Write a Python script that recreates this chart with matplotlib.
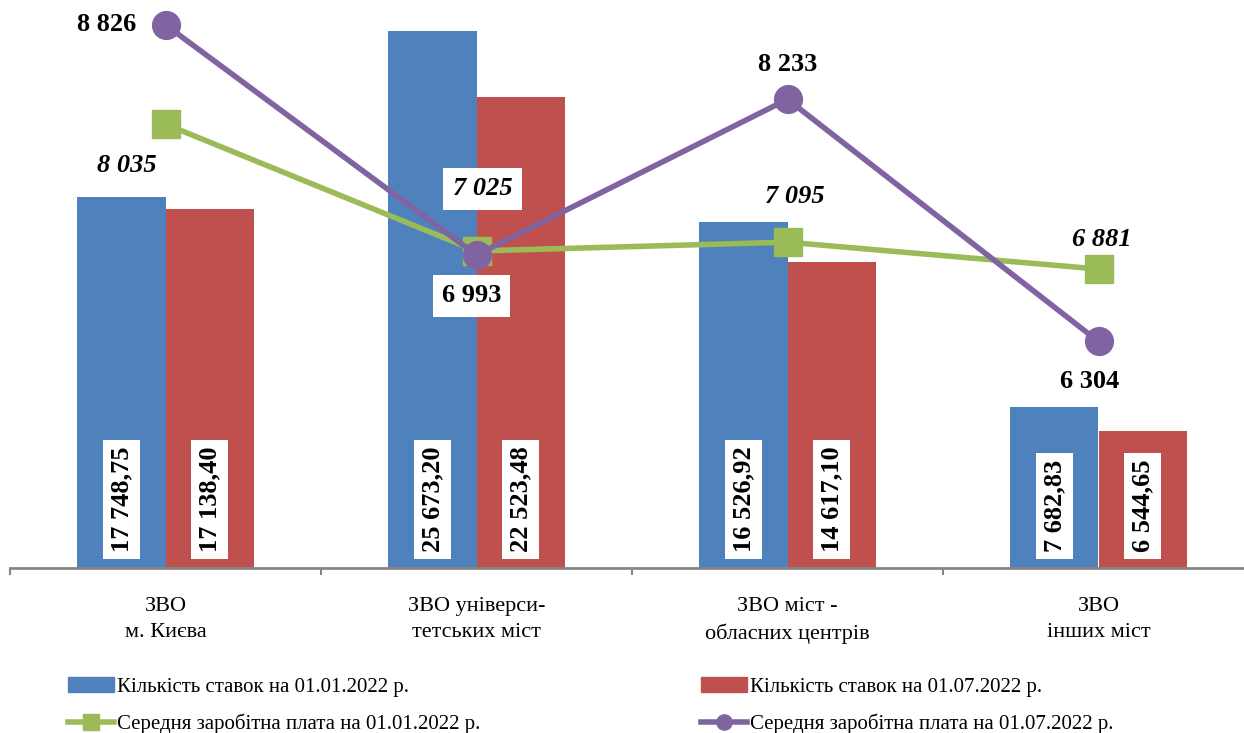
import numpy as np
import matplotlib
matplotlib.use("Agg")
import matplotlib.pyplot as plt
from matplotlib.patches import Patch
from matplotlib.lines import Line2D

plt.rcParams['font.family'] = ['Liberation Serif', 'DejaVu Serif']

# дані
categories = ["ЗВО\nм. Києва", "ЗВО універси-\nтетських міст",
              "ЗВО міст -\nобласних центрів", "ЗВО\nінших міст"]
stavky_0101 = [17748.75, 25673.20, 16526.92, 7682.83]
stavky_0107 = [17138.40, 22523.48, 14617.10, 6544.65]
zp_0101 = [8035, 7025, 7095, 6881]
zp_0107 = [8826, 6993, 8233, 6304]

legend_labels = ["Кількість ставок на 01.01.2022 р.",
                 "Кількість ставок на 01.07.2022 р.",
                 "Середня заробітна плата на 01.01.2022 р.",
                 "Середня заробітна плата на 01.07.2022 р."]

c_blue = '#4F81BD'
c_red = '#C0504D'
c_green = '#9BBB59'
c_purple = '#8064A2'
c_axis = '#868686'

W, H = 1244, 733
fig = plt.figure(figsize=(W / 100, H / 100), dpi=100)
ax = fig.add_axes([10 / W, (H - 568) / H, 1234 / W, 565 / H])

x = np.arange(len(categories))
bw = 0.283
ax.bar(x - bw / 2, stavky_0101, bw, color=c_blue, zorder=2)
ax.bar(x + bw / 2, stavky_0107, bw, color=c_red, zorder=2)

def fmt_dec(v):
    return f"{v:,.2f}".replace(',', ' ').replace('.', ',')

def fmt_int(v):
    return f"{v:,}".replace(',', ' ')

box = dict(boxstyle='square,pad=0.25', fc='white', ec='none')
for xs, vals in ((x - bw / 2, stavky_0101), (x + bw / 2, stavky_0107)):
    for xi, v in zip(xs, vals):
        ax.annotate(fmt_dec(v), (xi, 0), xytext=(0, 16), textcoords='offset pixels',
                    rotation=90, ha='center', va='bottom', fontsize=19,
                    fontweight='bold', bbox=box, zorder=5)

# вісь категорій
for s in ('top', 'left', 'right'):
    ax.spines[s].set_visible(False)
ax.spines['bottom'].set_color(c_axis)
ax.spines['bottom'].set_linewidth(2)
ax.set_yticks([])
ax.set_xticks(np.arange(-0.5, 4, 1.0))
ax.set_xticklabels([])
ax.tick_params(axis='x', which='major', length=5, width=1.5, color=c_axis)
ax.set_xticks(x, minor=True)
ax.set_xticklabels(categories, minor=True, fontsize=16, linespacing=1.5)
ax.tick_params(axis='x', which='minor', length=0, pad=21)
ax.set_xlim(-0.5, 3.5 - 10 / 311)
ax.set_ylim(0, 27000)

# друга вісь: заробітна плата
ax2 = ax.twinx()
ax2.set_ylim(4500, 9000)
for s in ax2.spines.values():
    s.set_visible(False)
ax2.set_yticks([])
ax2.plot(x, zp_0101, color=c_green, lw=4, marker='s', ms=20, zorder=3)
ax2.plot(x, zp_0107, color=c_purple, lw=4, marker='o', ms=20, zorder=4)

green_off = [(-39, -41), (6, 62), (7, 46), (3, 30)]
purple_off = [(-59, 0), (-5, -41), (0, 35), (-9, -40)]
for i, v in enumerate(zp_0101):
    bb = dict(boxstyle='square,pad=0.35', fc='white', ec='none') if i == 1 else None
    ax2.annotate(fmt_int(v), (x[i], v), xytext=green_off[i], textcoords='offset pixels',
                 ha='center', va='center', fontsize=19, fontweight='bold',
                 fontstyle='italic', bbox=bb, zorder=6)
for i, v in enumerate(zp_0107):
    bb = dict(boxstyle='square,pad=0.35', fc='white', ec='none') if i == 1 else None
    ax2.annotate(fmt_int(v), (x[i], v), xytext=purple_off[i], textcoords='offset pixels',
                 ha='center', va='center', fontsize=19, fontweight='bold',
                 bbox=bb, zorder=6)

# легенда
handles = [Patch(color=c_blue),
           Line2D([], [], color=c_green, lw=4, marker='s', ms=11),
           Patch(color=c_red),
           Line2D([], [], color=c_purple, lw=4, marker='o', ms=11)]
labels = [legend_labels[0], legend_labels[2], legend_labels[1], legend_labels[3]]
fig.legend(handles, labels, ncol=2, loc='upper left',
           bbox_to_anchor=(68 / W, 1 - 677 / H), frameon=False, fontsize=15,
           handlelength=2.2, handleheight=0.75, handletextpad=0.15,
           columnspacing=10.6, labelspacing=0.8, borderpad=0, borderaxespad=0)

fig.savefig('out.png', dpi=100)
